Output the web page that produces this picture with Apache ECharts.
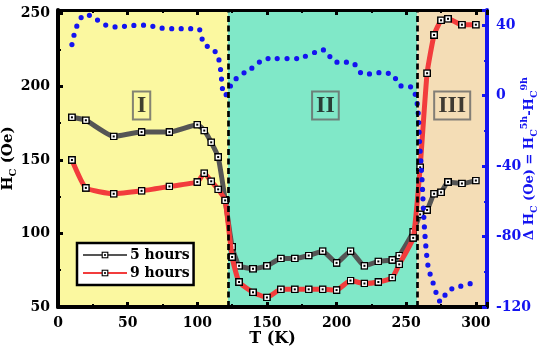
<!DOCTYPE html>
<html><head><meta charset="utf-8">
<script src="https://cdn.jsdelivr.net/npm/echarts@6/dist/echarts.min.js"></script>
<style>html,body{margin:0;padding:0;background:#fff}#c{width:550px;height:350px}</style>
</head><body><div id="c"></div>
<script>
const temps = [10,20,40,60,80,100,105,110,115,120,125,130,140,150,160,170,180,190,200,210,220,230,240,245,255,260,265,270,275,280,290,300];
const hc5h = [179,177,166,169,169,174,170,162,152,123,91,78,76,78,83,83,85,88,80,88,78,81,82,85,101,113,116,127,128,135,134,136];
const hc9h = [150,131,127,129,132,135,141,135.5,130,122.5,84,67,60,56.5,62,62,62,62,61.5,68,66,67,70,79,97,145,209,235,245,246,242,242];
const deltaHc = [29,46,39,40,38,38,29,27,22,0,7,11,16,21,21,21,23,26,19,19,12,13,12,6,4,-32,-93,-108,-117,-111,-108,-106];
const regionBounds = [0, 122, 258, 308];
const regionNames = ['I', 'II', 'III'];
const regionLabelT = [60, 192, 283];
const regionLabelH = [187, 187, 187];
const seriesNames = ['5 hours', '9 hours'];

const FONT = 'DejaVu Serif';
const svg = '<svg xmlns="http://www.w3.org/2000/svg" width="16" height="16" viewBox="0 0 16 16"><rect x="1.5" y="1.5" width="13" height="13" fill="#ffffff" stroke="#000000" stroke-width="3"/><rect x="6" y="6" width="4" height="4" fill="#000000"/></svg>';
const markerSym = 'image://data:image/svg+xml;charset=utf-8,' + encodeURIComponent(svg);

const pair = (ys) => temps.map((t, i) => [t, ys[i]]);
const bgColors = ['#fbf8a0', '#80e8c8', '#f4ddb6'];

const chart = echarts.init(document.getElementById('c'), null, {renderer: 'canvas'});
const lbl = {fontFamily: FONT, fontWeight: 'bold', fontSize: 14, color: '#000'};
const blue = '#1414f0';

chart.setOption({
  animation: false,
  backgroundColor: '#fff',
  grid: {left: 58, right: 63, top: 10, bottom: 43, containLabel: false, outerBoundsMode: 'none'},
  legend: {
    data: seriesNames, orient: 'vertical', left: 77, top: 243,
    itemWidth: 44, itemHeight: 9, itemGap: 4,
    borderColor: '#000', borderWidth: 2.5, backgroundColor: '#fff', borderRadius: 0,
    padding: [5, 4, 5, 5],
    textStyle: {fontFamily: FONT, fontWeight: 'bold', fontSize: 14, color: '#000', padding: [0, 0, 0, -2]}
  },
  xAxis: [{
    type: 'value', min: 0, max: 308, interval: 50, z: 5,
    name: 'T (K)', nameLocation: 'middle', nameGap: 24, nameMoveOverlap: false,
    nameTextStyle: {fontFamily: FONT, fontWeight: 'bold', fontSize: 16, color: '#000'},
    axisLine: {show: true, onZero: false, lineStyle: {color: '#000', width: 4}},
    axisTick: {inside: true, length: 5, lineStyle: {color: '#000', width: 3}},
    minorTick: {show: true, splitNumber: 2, length: 3, lineStyle: {color: '#000', width: 2}},
    axisLabel: Object.assign({margin: 9, showMaxLabel: false}, lbl),
    splitLine: {show: false}
  }, {
    type: 'value', min: 0, max: 308, interval: 50, position: 'top', z: 5,
    axisLine: {show: true, onZero: false, lineStyle: {color: '#000', width: 3}},
    axisTick: {inside: true, length: 5, lineStyle: {color: '#000', width: 3}},
    minorTick: {show: true, splitNumber: 2, length: 3, lineStyle: {color: '#000', width: 2}},
    axisLabel: {show: false}, splitLine: {show: false}
  }],
  yAxis: [{
    type: 'value', min: 50, max: 252, interval: 50, position: 'left', z: 5,
    name: '{b|H}{s|C}{b| (Oe)}', nameLocation: 'middle', nameGap: 40, nameRotate: 90, nameMoveOverlap: false,
    nameTextStyle: {rich: {
      b: {fontFamily: FONT, fontWeight: 'bold', fontSize: 15, color: '#000', lineHeight: 20},
      s: {fontFamily: FONT, fontWeight: 'bold', fontSize: 10, color: '#000', lineHeight: 10, verticalAlign: 'bottom'}
    }},
    axisLine: {show: true, onZero: false, lineStyle: {color: '#000', width: 4}},
    axisTick: {inside: true, length: 5, lineStyle: {color: '#000', width: 3}},
    minorTick: {show: true, splitNumber: 2, length: 3, lineStyle: {color: '#000', width: 2}},
    axisLabel: Object.assign({margin: 8, showMaxLabel: false}, lbl),
    splitLine: {show: false}
  }, {
    type: 'value', min: -120, max: 48.6, interval: 40, position: 'right', z: 5,
    name: '{b|\u0394 H}{s|C}{b| (Oe) = H}{s|C}{p|5h}{b|-H}{s|C}{p|9h}',
    nameLocation: 'middle', nameGap: 33, nameRotate: 90, nameMoveOverlap: false,
    nameTextStyle: {rich: {
      b: {fontFamily: FONT, fontWeight: 'bold', fontSize: 13, color: blue, lineHeight: 20},
      s: {fontFamily: FONT, fontWeight: 'bold', fontSize: 9.5, color: blue, lineHeight: 10, verticalAlign: 'bottom'},
      p: {fontFamily: FONT, fontWeight: 'bold', fontSize: 9.5, color: blue, lineHeight: 10, verticalAlign: 'top'}
    }},
    axisLine: {show: true, onZero: false, lineStyle: {color: blue, width: 4}},
    axisTick: {inside: true, length: 5, lineStyle: {color: blue, width: 3}},
    minorTick: {show: true, splitNumber: 2, length: 3, lineStyle: {color: blue, width: 2}},
    axisLabel: Object.assign({}, lbl, {margin: 9, showMaxLabel: false, color: blue}),
    splitLine: {show: false}
  }],
  series: [
    {
      type: 'line', name: 'bg', data: [], z: 1, silent: true,
      markArea: {silent: true, data: regionNames.map((n, i) => [
        {xAxis: regionBounds[i], itemStyle: {color: bgColors[i]}},
        {xAxis: regionBounds[i + 1]}
      ])}
    },
    {
      type: 'line', name: 'dividers', data: [], z: 1.5, silent: true,
      markLine: {silent: true, symbol: ['none', 'none'], label: {show: false},
        lineStyle: {color: '#000', width: 2.7, type: [6, 3.5]},
        data: regionBounds.slice(1, 3).map(v => ({xAxis: v}))}
    },
    {
      type: 'scatter', name: 'regions', z: 2, silent: true, symbolSize: 0,
      data: regionNames.map((n, i) => ({value: [regionLabelT[i], regionLabelH[i]], name: n})),
      label: {show: true, position: 'inside', formatter: p => p.name,
        fontFamily: 'Liberation Serif', fontWeight: 'bold', fontSize: 24, color: '#111',
        borderColor: '#666', borderWidth: 2, padding: [2, 4, 0, 4], lineHeight: 26}
    },
    {
      type: 'line', name: seriesNames[0], data: pair(hc5h), z: 3, smooth: 0.15,
      symbol: markerSym, symbolSize: 8, showSymbol: true,
      lineStyle: {color: '#555555', width: 5}, itemStyle: {color: '#555555'}
    },
    {
      type: 'line', name: seriesNames[1], data: pair(hc9h), z: 3.2, smooth: 0.15,
      symbol: markerSym, symbolSize: 8, showSymbol: true,
      lineStyle: {color: '#f23c3c', width: 5}, itemStyle: {color: '#f23c3c'}
    },
    {
      type: 'line', name: 'delta', yAxisIndex: 1, data: pair(deltaHc), z: 3.4, smooth: 0.4,
      showSymbol: false,
      lineStyle: {color: blue, width: 5.2, type: [0, 9.5], cap: 'round'}
    }
  ]
});
</script></body></html>
